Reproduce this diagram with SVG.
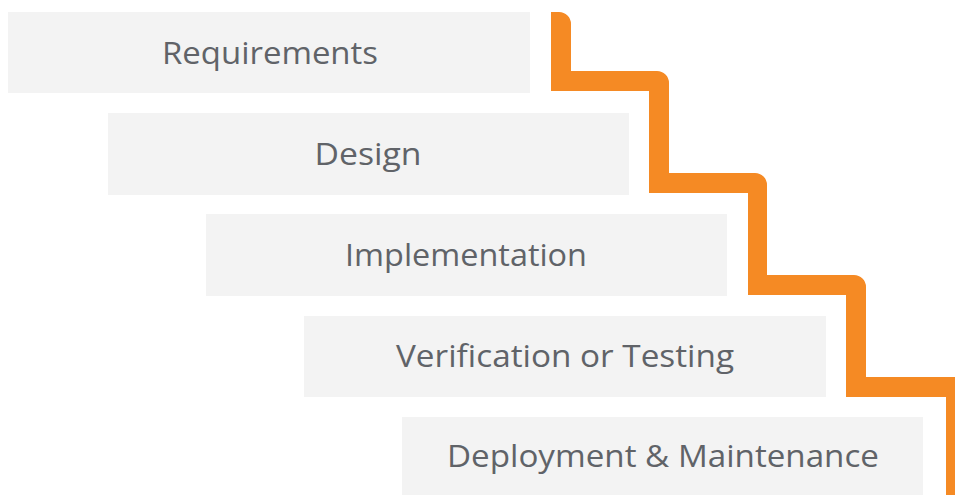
<svg xmlns="http://www.w3.org/2000/svg" width="955" height="495" viewBox="0 0 955 495">
<style>
.box{fill:#f3f3f3}
.lbl{font-family:"Open Sans",Lato,"Liberation Sans",sans-serif;font-size:31px;fill:#606368;text-anchor:middle}
.stair{fill:#f58a24}
</style>
<rect width="955" height="495" fill="#ffffff"/>
<g id="connectors">
<path class="stair" d="M551,12 H559 A12,12 0 0 1 571,24 V71 H657 A12,12 0 0 1 669,83 V173 H755 A12,12 0 0 1 767,185 V275 H854 A12,12 0 0 1 866,287 V377 H956 A12,12 0 0 1 968,389 V495 H946 V397 H846 V295 H748 V193 H649 V91 H551 Z"/>
</g>
<g id="requirements"><rect class="box" x="8" y="12" width="522" height="81"/><text class="lbl" x="270" y="64" textLength="216" lengthAdjust="spacingAndGlyphs">Requirements</text></g>
<g id="design"><rect class="box" x="108" y="113" width="521" height="82"/><text class="lbl" x="368" y="165" textLength="107" lengthAdjust="spacingAndGlyphs">Design</text></g>
<g id="implementation"><rect class="box" x="206" y="214" width="521" height="82"/><text class="lbl" x="466" y="266" textLength="242" lengthAdjust="spacingAndGlyphs">Implementation</text></g>
<g id="verification"><rect class="box" x="304" y="316" width="522" height="81"/><text class="lbl" x="565" y="367" textLength="338" lengthAdjust="spacingAndGlyphs">Verification or Testing</text></g>
<g id="deployment"><rect class="box" x="402" y="417" width="521" height="78"/><text class="lbl" x="663" y="467" textLength="432" lengthAdjust="spacingAndGlyphs">Deployment &amp; Maintenance</text></g>
</svg>
